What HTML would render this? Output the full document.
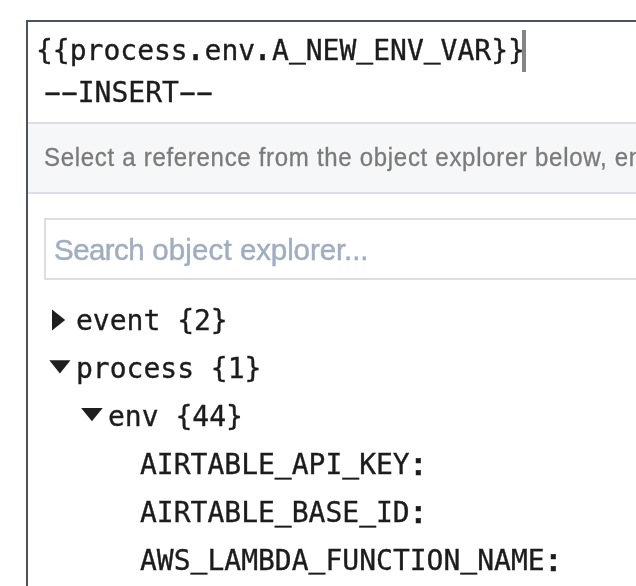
<!DOCTYPE html>
<html><head><meta charset="utf-8">
<style>
html,body{margin:0;padding:0;background:#fff;width:636px;height:586px;overflow:hidden;}
#root{position:relative;width:636px;height:586px;overflow:hidden;background:#fff;}
.mono,.band span,.search span{will-change:transform;}
body{width:636px;height:586px;overflow:hidden;position:relative;font-family:"Liberation Sans",sans-serif;}
.panel{position:absolute;left:26px;top:20px;width:700px;height:700px;border:2px solid #4b535e;box-sizing:border-box;background:#fff;}
.mono{font-family:"DejaVu Sans Mono","Liberation Mono",monospace;color:#1c1c1c;-webkit-text-stroke:0.35px #1c1c1c;}
.code{transform-origin:0 31.7px;position:absolute;left:7.5px;top:7px;font-size:28px;line-height:44px;white-space:pre;}
.cursor{position:absolute;left:494px;top:8px;width:3.5px;height:41.5px;background:#858585;}
.mode{transform-origin:0 31.7px;position:absolute;left:15.5px;top:49px;font-size:28px;line-height:44px;white-space:pre;}
.mono u{display:inline-block;text-decoration:none;transform-origin:50% 100%;transform:translateY(0px) scaleY(1.3);}
.code u{transform:translateY(-0.8px) scaleY(1.3);}
.mono em{font-style:normal;display:inline-block;}
.code em{transform-origin:50% 31.7px;transform:translateX(-0.7px) scale(1.2,1.4);}
.row em{transform-origin:50% 26.1px;transform:scale(1.35,1.15);}
.mode i{display:inline-block;font-style:normal;transform:scaleX(1.9);}
.band{position:absolute;left:0;top:100px;width:700px;height:72px;box-sizing:border-box;background:#f6f7f9;border-top:2px solid #dcdfe4;border-bottom:2px solid #dcdfe4;}
.band span{transform:scaleY(1.045);transform-origin:0 22px;position:absolute;left:16px;top:20px;font-size:24px;line-height:28px;color:#7b7b7b;-webkit-text-stroke:0.3px #7b7b7b;white-space:nowrap;letter-spacing:0.7px;}
.search{position:absolute;left:16px;top:196px;width:700px;height:62px;box-sizing:border-box;border:2px solid #dbdfe3;background:#fff;}
.search span{position:absolute;left:7.5px;top:13.5px;font-size:29.5px;line-height:32px;letter-spacing:-0.1px;color:#a0aec0;-webkit-text-stroke:0.45px #a0aec0;white-space:nowrap;}
.search b{font-weight:normal;}
.row{transform-origin:0 33.7px;position:absolute;font-size:28px;line-height:48px;white-space:pre;}
svg.tri{position:absolute;left:0;top:0;overflow:visible;}
</style></head><body>
<div id="root">
<div class="panel">
<div class="code mono">{{process<em>.</em>env<em>.</em>A<u>_</u>NEW<u>_</u>ENV<u>_</u>VAR}}</div>
<div class="cursor"></div>
<div class="mode mono"><i>-</i><i>-</i>INSERT<i>-</i><i>-</i></div>
<div class="band"><span>Select a reference from the object explorer below, enter</span></div>
<div class="search"><span><b style="letter-spacing:-0.55px">Search</b> <b style="letter-spacing:0.13px">object</b> <b>explorer...</b></span></div>
<div class="row mono" style="left:48px;top:275px;">event {2}</div>
<div class="row mono" style="left:48px;top:323px;">process {1}</div>
<div class="row mono" style="left:80px;top:371px;">env {44}</div>
<div class="row mono" style="left:111.5px;top:419px;">AIRTABLE<u>_</u>API<u>_</u>KEY<em>:</em></div>
<div class="row mono" style="left:111.5px;top:467px;">AIRTABLE<u>_</u>BASE<u>_</u>ID<em>:</em></div>
<div class="row mono" style="left:111.5px;top:515px;">AWS<u>_</u>LAMBDA<u>_</u>FUNCTION<u>_</u>NAME<em>:</em></div>
</div>
<svg class="tri" width="636" height="586" viewBox="0 0 636 586">
<polygon points="52,309.5 65.2,320 52,330.5" fill="#1f1f1f"/>
<polygon points="49.3,360.2 70.5,360.2 59.9,373.4" fill="#1f1f1f"/>
<polygon points="81.1,408 102.7,408 91.9,421.2" fill="#1f1f1f"/>
</svg>
</div>
</body></html>
